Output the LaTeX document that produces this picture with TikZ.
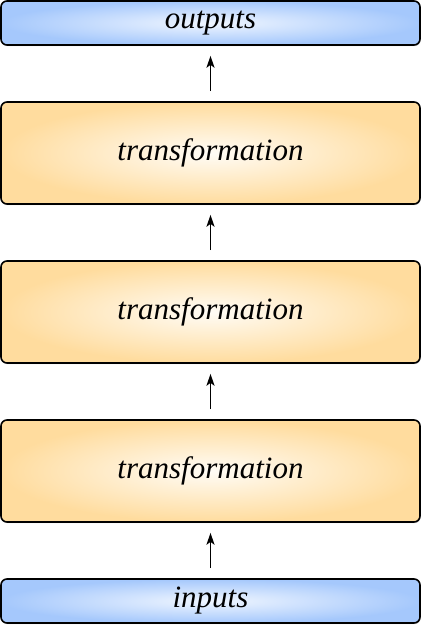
\documentclass[tikz,border=0pt]{standalone}
\usepackage{fontspec}
\setmainfont{Liberation Serif}
\usetikzlibrary{arrows.meta,shadows}
\definecolor{bluebox}{RGB}{165,200,252}
\definecolor{blueinner}{RGB}{240,246,255}
\definecolor{orangebox}{RGB}{255,220,158}
\definecolor{orangeinner}{RGB}{255,252,246}
\tikzset{
  x=1pt, y=1pt,
  basebox/.style={draw=black, line width=1.6pt, rounded corners=6pt,
    minimum width=419pt, inner sep=0pt,
    font=\fontsize{31}{36}\selectfont\itshape,
    drop shadow={shadow xshift=0.6pt, shadow yshift=-1.2pt, opacity=0.35}},
  iobox/.style={basebox, minimum height=44pt, shading=radial,
    outer color=bluebox, inner color=blueinner},
  transbox/.style={basebox, minimum height=102pt, shading=radial,
    outer color=orangebox, inner color=orangeinner},
  flow/.style={-{Stealth[length=12pt,width=8pt,inset=3pt]}, line width=1.5pt,
    shorten <=10pt, shorten >=10pt}
}
\begin{document}
\begin{tikzpicture}
\useasboundingbox (0,0) rectangle (423,627);
\node[iobox] (out) at (210.5,604) {outputs};
\node[transbox] (t1) at (210.5,474) {transformation};
\node[transbox] (t2) at (210.5,315) {transformation};
\node[transbox] (t3) at (210.5,156) {transformation};
\node[iobox] (in) at (210.5,26) {inputs};
\draw[flow] (in) -- (t3);
\draw[flow] (t3) -- (t2);
\draw[flow] (t2) -- (t1);
\draw[flow] (t1) -- (out);
\end{tikzpicture}
\end{document}
